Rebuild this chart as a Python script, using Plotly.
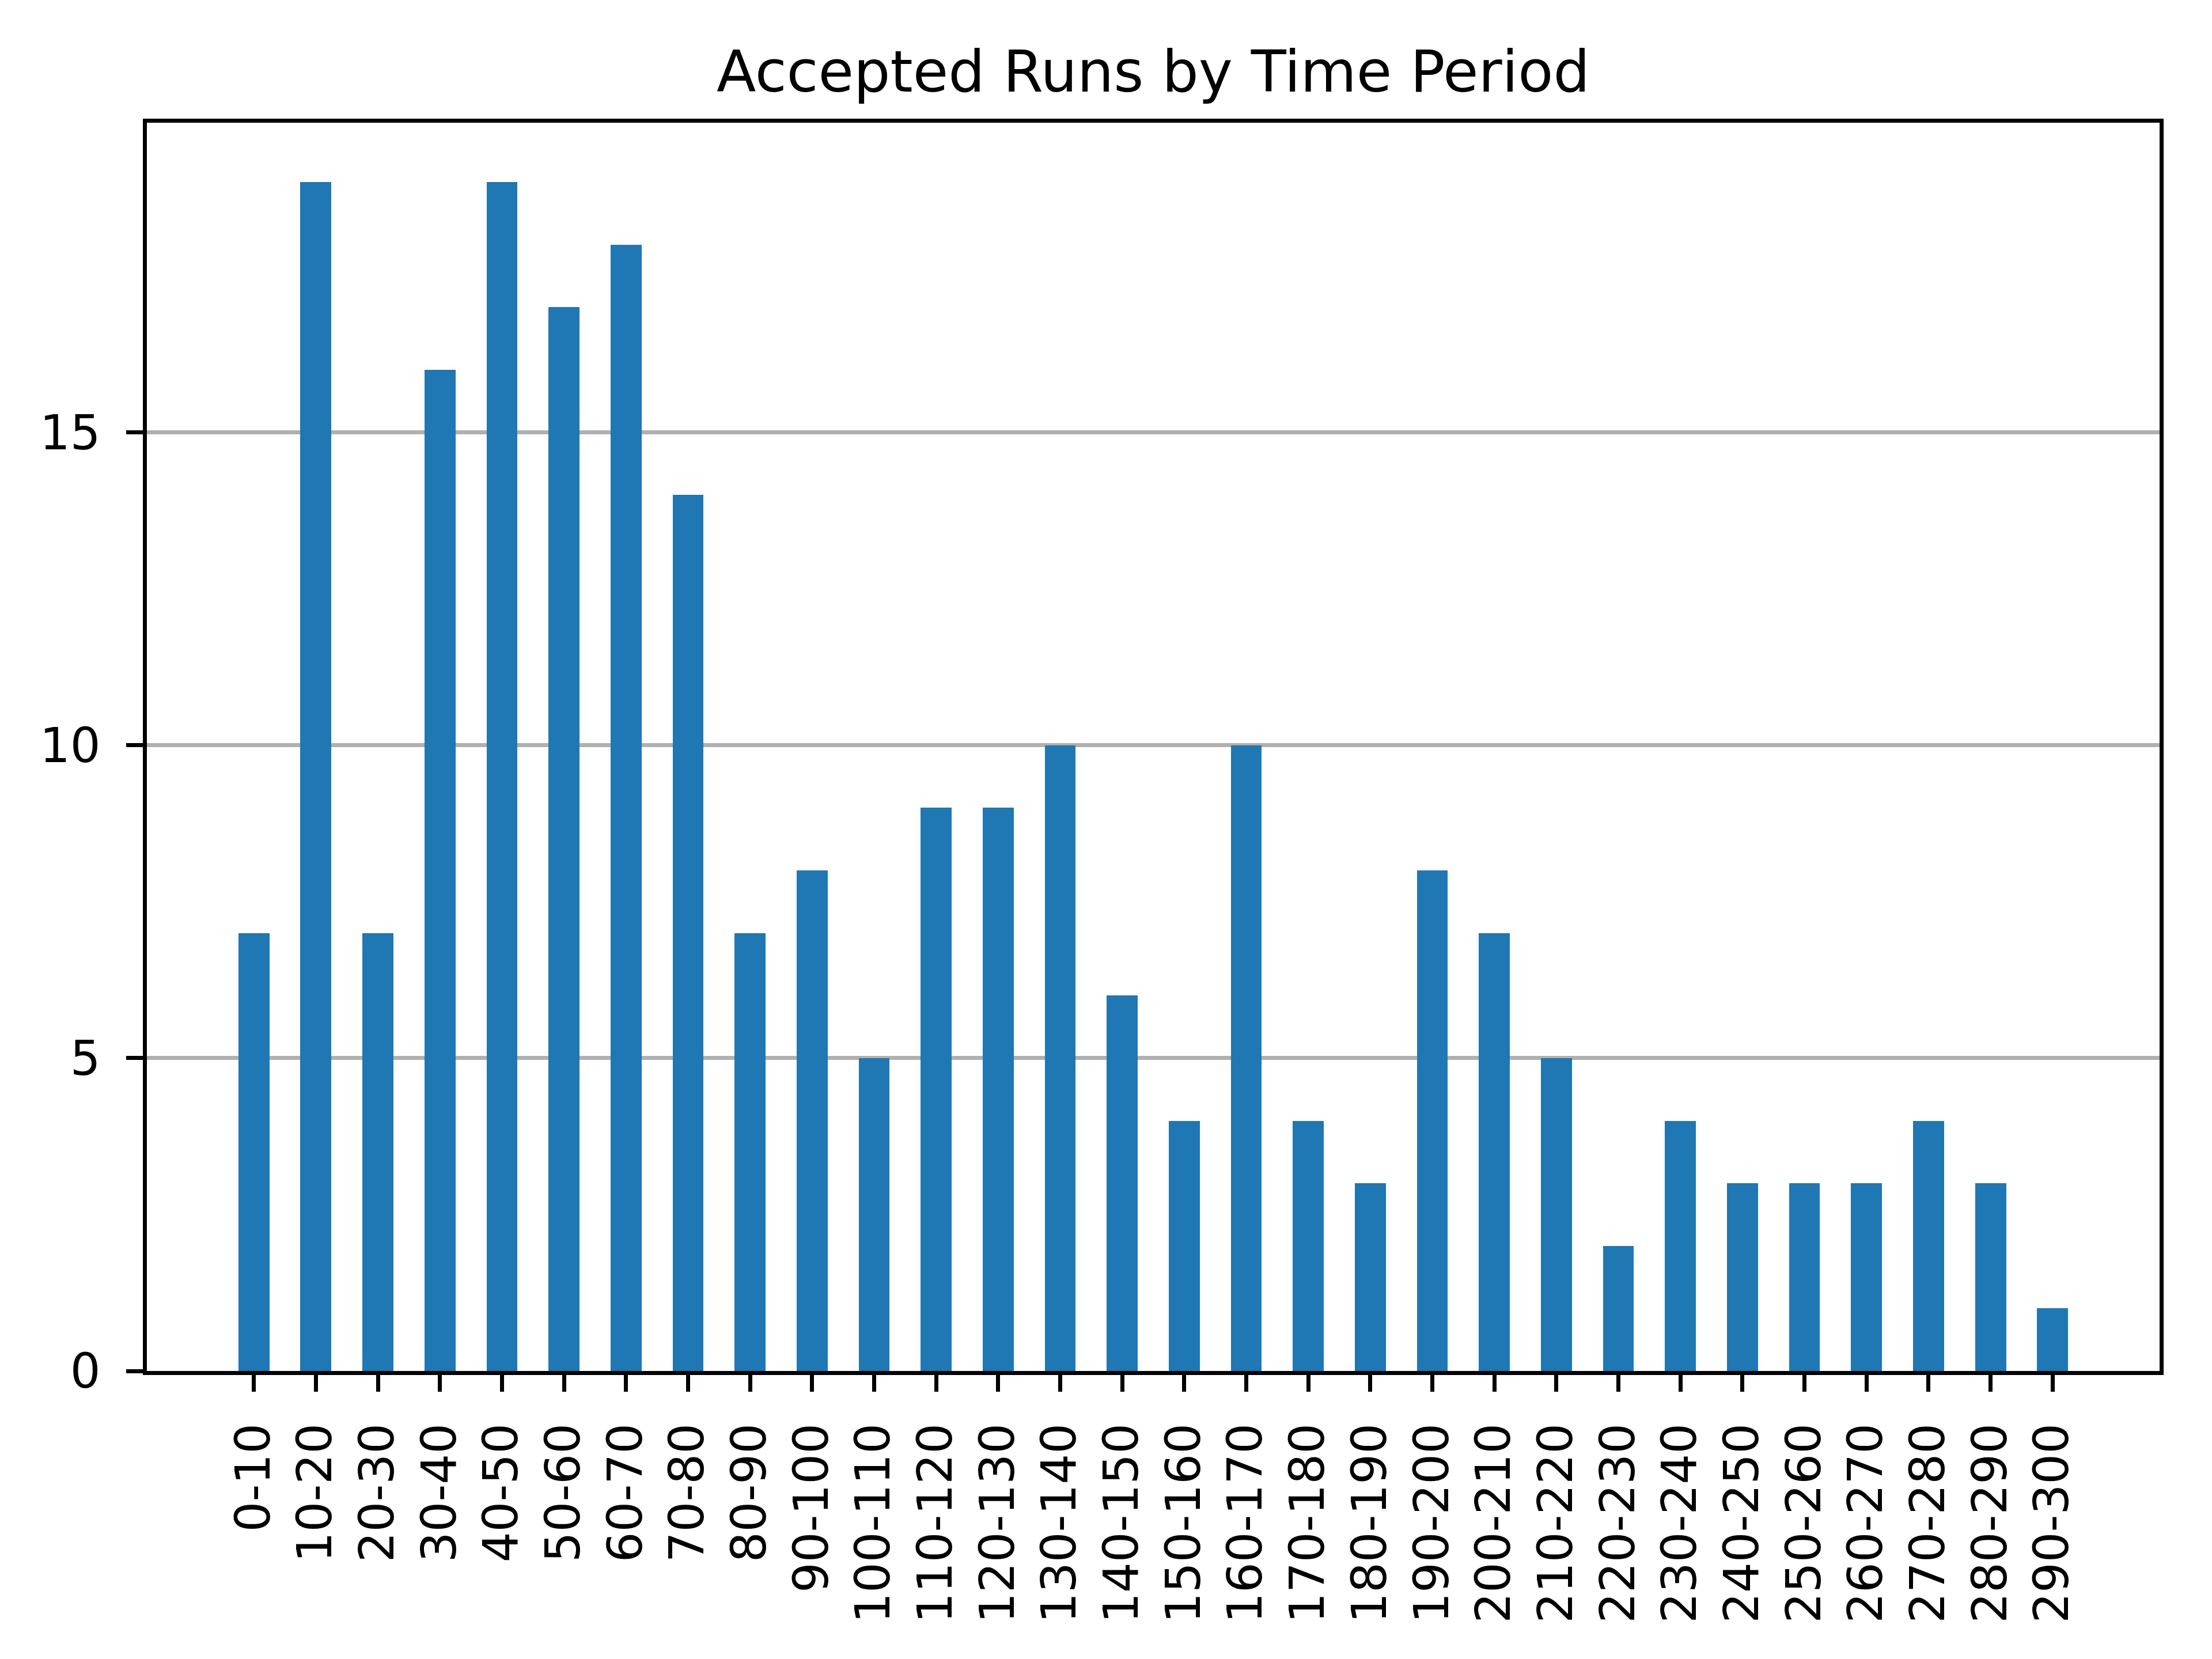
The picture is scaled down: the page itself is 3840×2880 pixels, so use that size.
import plotly.graph_objects as go

categories = ["0-10", "10-20", "20-30", "30-40", "40-50", "50-60", "60-70", "70-80",
              "80-90", "90-100", "100-110", "110-120", "120-130", "130-140", "140-150",
              "150-160", "160-170", "170-180", "180-190", "190-200", "200-210", "210-220",
              "220-230", "230-240", "240-250", "250-260", "260-270", "270-280", "280-290",
              "290-300"]
counts = [7, 19, 7, 16, 19, 17, 18, 14, 7, 8, 5, 9, 9, 10, 6, 4, 10, 4, 3, 8, 7, 5,
          2, 4, 3, 3, 3, 4, 3, 1]
y_ticks = [0, 5, 10, 15]

positions = list(range(len(categories)))

fig = go.Figure()
fig.add_trace(go.Bar(
    x=positions, y=counts, width=0.5,
    marker=dict(color="#1f77b4", line=dict(width=0)),
))

font_family = "DejaVu Sans"
lw = 6.67

fig.update_layout(
    width=3840, height=2880,
    margin=dict(l=255, r=91, t=213, b=500),
    paper_bgcolor="white", plot_bgcolor="white",
    showlegend=False,
    font=dict(family=font_family, color="black"),
    title=dict(
        text="Accepted Runs by Time Period",
        font=dict(family=font_family, size=100, color="black"),
        x=0.5, xref="paper", xanchor="center",
        y=1, yref="paper", yanchor="bottom",
        pad=dict(b=54),
    ),
    bargap=0,
)

fig.update_xaxes(
    range=[-1.725, 30.725],
    tickmode="array", tickvals=positions, ticktext=categories,
    tickangle=-90,
    tickfont=dict(family=font_family, size=83, color="black"),
    ticks="outside", ticklen=29, tickwidth=lw, tickcolor="black",
    showline=True, linecolor="black", linewidth=lw, mirror=True,
    showgrid=False, zeroline=False,
    ticklabelstandoff=22,
)
fig.update_yaxes(
    range=[0, 19.95],
    tickmode="array", tickvals=y_ticks, ticktext=[str(v) for v in y_ticks],
    tickfont=dict(family=font_family, size=83, color="black"),
    ticks="outside", ticklen=29, tickwidth=lw, tickcolor="black",
    showline=True, linecolor="black", linewidth=lw, mirror=True,
    showgrid=True, gridcolor="#b0b0b0", gridwidth=lw,
    zeroline=False,
    ticklabelstandoff=28,
)

fig.write_html("out.html")
